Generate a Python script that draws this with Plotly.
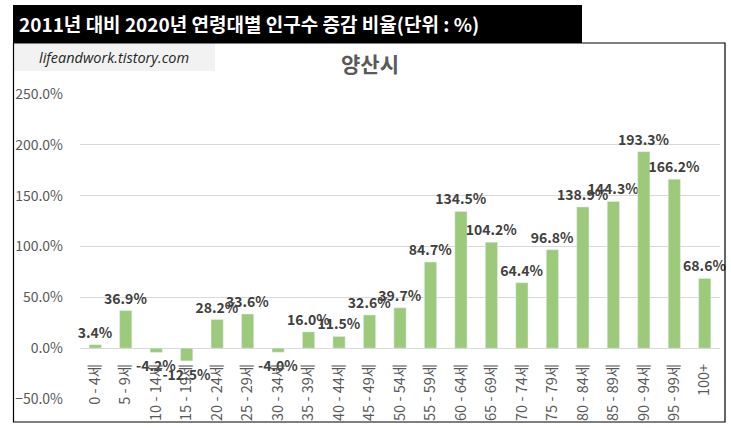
import plotly.graph_objects as go

# 연령대별 증감 비율 (2011 -> 2020), 양산시
age_groups = ['0 - 4세', '5 - 9세', '10 - 14세', '15 - 19세', '20 - 24세',
              '25 - 29세', '30 - 34세', '35 - 39세', '40 - 44세', '45 - 49세',
              '50 - 54세', '55 - 59세', '60 - 64세', '65 - 69세', '70 - 74세',
              '75 - 79세', '80 - 84세', '85 - 89세', '90 - 94세', '95 - 99세',
              '100+']
change_pct = [3.4, 36.9, -4.2, -12.5, 28.2, 33.6, -4.0, 16.0, 11.5, 32.6,
              39.7, 84.7, 134.5, 104.2, 64.4, 96.8, 138.9, 144.3, 193.3, 166.2,
              68.6]

W, H = 731, 428
L, R, T, B = 80, 11, 94, 29
FONT = 'Noto Sans CJK KR'


def px(x):
    # pixel x -> paper x
    return (x - L) / (W - L - R)


def py(y):
    # pixel y -> paper y
    return (H - B - y) / (H - T - B)


fig = go.Figure(go.Bar(
    x=age_groups,
    y=change_pct,
    marker_color='#9dc97b',
    texttemplate='%{y:.1f}%',
    textposition='outside',
    constraintext='none',
    cliponaxis=False,
    textfont=dict(family=FONT, size=14, color='#404040', weight='bold'),
    hovertemplate='%{x}: %{y:.1f}%<extra></extra>',
))

fig.update_layout(
    width=W, height=H,
    margin=dict(l=L, r=R, t=T, b=B, autoexpand=False),
    paper_bgcolor='white',
    plot_bgcolor='white',
    bargap=0.6,
    showlegend=False,
    shapes=[
        # watermark box
        dict(type='rect', xref='paper', yref='paper', layer='below',
             x0=px(13.5), x1=px(215), y0=py(71), y1=py(43.5),
             line=dict(width=0), fillcolor='#f2f2f2'),
        # black heading bar
        dict(type='rect', xref='paper', yref='paper', layer='above',
             x0=px(13), x1=px(582), y0=py(43), y1=py(5),
             line=dict(width=0), fillcolor='black'),
        # chart frame
        dict(type='rect', xref='paper', yref='paper', layer='above',
             x0=px(13.5), x1=px(725), y0=py(422), y1=py(43),
             line=dict(color='black', width=1.2)),
    ],
    annotations=[
        dict(text='<b>2011년 대비 2020년 연령대별 인구수 증감 비율(단위 : %)</b>',
             xref='paper', yref='paper', x=px(17), y=py(24),
             xanchor='left', yanchor='middle', showarrow=False,
             font=dict(family=FONT, size=19, color='white')),
        dict(text='<i>lifeandwork.tistory.com</i>',
             xref='paper', yref='paper', x=px(114), y=py(58),
             xanchor='center', yanchor='middle', showarrow=False,
             font=dict(family='Open Sans', size=14.5, color='#262626')),
        dict(text='<b>양산시</b>',
             xref='paper', yref='paper', x=px(370), y=py(63),
             xanchor='center', yanchor='middle', showarrow=False,
             font=dict(family=FONT, size=21, color='#595959')),
    ],
)

fig.update_xaxes(
    anchor='free', position=py(348),
    tickangle=-90,
    tickfont=dict(family=FONT, size=14.5, color='#595959'),
    ticklabelstandoff=12,
    showline=False, showgrid=False, ticks='',
    automargin=False,
    fixedrange=True,
)

fig.update_yaxes(
    range=[-50, 250], dtick=50,
    tickformat='.1f', ticksuffix='%',
    tickfont=dict(family=FONT, size=14, color='#595959'),
    ticklabelstandoff=16,
    showgrid=True, gridcolor='#d9d9d9', gridwidth=1,
    zeroline=True, zerolinecolor='#d9d9d9', zerolinewidth=1,
    showline=False, ticks='',
    automargin=False,
    fixedrange=True,
)

# drop the browser's default 8px body margin so the page lines up with the window
fig.write_html('out.html', config={'displayModeBar': False},
               post_script="document.body.style.margin='0px';")
